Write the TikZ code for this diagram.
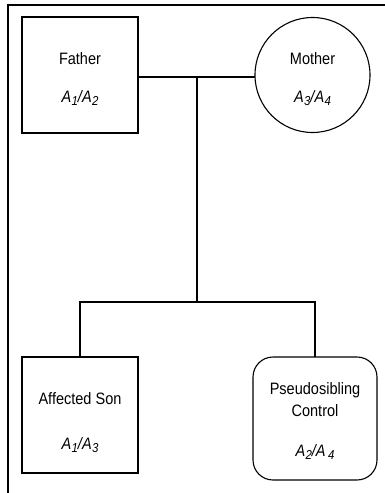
\documentclass[tikz,border=0pt]{standalone}
\usepackage{fontspec}
\setmainfont[FakeStretch=0.88]{Liberation Sans}
\newcommand\geno[2]{\textit{A\kern0.3pt\raisebox{-3.2pt}{\fontsize{13}{15}\selectfont #1}/A\kern0.3pt\raisebox{-3.2pt}{\fontsize{13}{15}\selectfont #2}}}
\newcommand\genob[2]{\textit{A\kern0.3pt\raisebox{-3.2pt}{\fontsize{13}{15}\selectfont #1}/A\kern2.5pt\raisebox{-3.2pt}{\fontsize{13}{15}\selectfont #2}}}
\begin{document}
\begin{tikzpicture}[x=1pt,y=-1pt,
  frame/.style={line width=1.5pt},
  line/.style={line width=1.1pt},
  shapebox/.style={draw, line width=1.1pt},
  lbl/.style={anchor=base, inner sep=0pt, font=\fontsize{16.5}{19.5}\selectfont}]
\useasboundingbox (0,0) rectangle (385,493);
% frame
\draw[frame] (385,5) -- (8,5) -- (8,493);
% shapes
\draw[shapebox] (22,17) rectangle (138,133);
\coordinate (fR) at (138,77);
\draw[shapebox] (312.5,75) circle (57.5);
\coordinate (mL) at (255,77);
\draw[shapebox] (22,357) rectangle (138,473);
\draw[shapebox, rounded corners=20] (253,357) rectangle (377,480);
% texts
\node[lbl] (father) at (80,64) {Father};
\node[lbl] (fg) at (80,102.5) {\geno{1}{2}};
\node[lbl] (mother) at (312.5,64) {Mother};
\node[lbl] (mg) at (312.5,102.5) {\geno{3}{4}};
\node[lbl] (son) at (80,404) {Affected Son};
\node[lbl] (sg) at (80,449.5) {\geno{1}{3}};
\node[lbl] (ps) at (315,394.5) {Pseudosibling};
\node[lbl] (ctl) at (315,416.5) {Control};
\node[lbl] (pg) at (315,456.5) {\genob{2}{4}};
% connectors
\coordinate (mid) at (197,77);
\coordinate (junc) at (197,302);
\coordinate (jl) at (80,302);
\coordinate (jr) at (315,302);
\coordinate (sonT) at (80,357);
\coordinate (psT) at (315,357);
\draw[line] (fR) -- (mL);
\draw[line] (mid) -- (junc);
\draw[line] (sonT) -- (jl) -- (jr) -- (psT);
\end{tikzpicture}
\end{document}
